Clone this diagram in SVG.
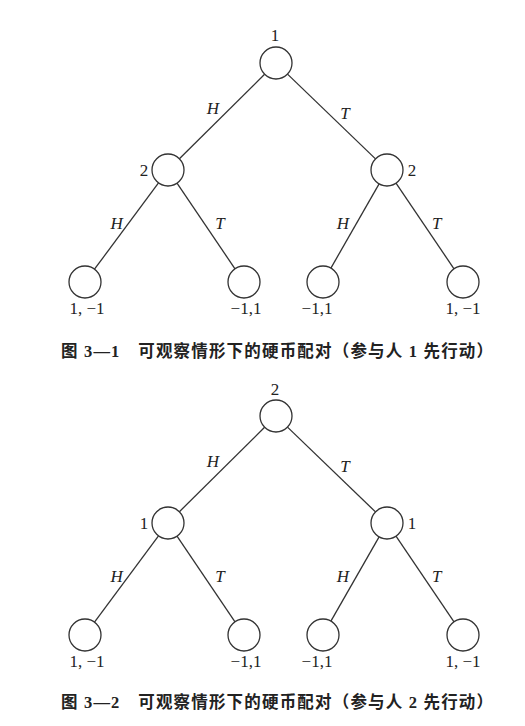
<svg xmlns="http://www.w3.org/2000/svg" width="525" height="726" viewBox="0 0 525 726">
<style>
.node{fill:#fff;stroke:#333;stroke-width:1.3}
.edge{stroke:#333;stroke-width:1.3;fill:none}
.num{font-family:"Liberation Serif","DejaVu Serif",serif;font-size:17px;fill:#222;text-anchor:middle}
.lab{font-family:"Liberation Serif","DejaVu Serif",serif;font-size:17px;font-style:italic;fill:#222;text-anchor:middle}
.cap{font-family:"Liberation Serif","Noto Sans CJK SC",sans-serif;font-size:16.5px;font-weight:bold;fill:#222;text-anchor:middle}
</style>
<rect width="525" height="726" fill="#fff"/>
<g id="connectors">
<line class="edge" x1="264.6" y1="74.3" x2="179.4" y2="158.7"/>
<line class="edge" x1="287.5" y1="74.1" x2="375.5" y2="158.9"/>
<line class="edge" x1="158.5" y1="182.9" x2="94.5" y2="269.2"/>
<line class="edge" x1="177" y1="183.2" x2="235" y2="268.8"/>
<line class="edge" x1="379.1" y1="183.9" x2="330.9" y2="268.1"/>
<line class="edge" x1="396" y1="183.2" x2="454" y2="268.8"/>
<line class="edge" x1="264.6" y1="427.3" x2="179.4" y2="511.7"/>
<line class="edge" x1="287.5" y1="427.1" x2="375.5" y2="511.9"/>
<line class="edge" x1="158.5" y1="535.9" x2="94.5" y2="622.2"/>
<line class="edge" x1="177" y1="536.2" x2="235" y2="621.8"/>
<line class="edge" x1="379.1" y1="536.9" x2="330.9" y2="621.1"/>
<line class="edge" x1="396" y1="536.2" x2="454" y2="621.8"/>
<text class="lab" x="213" y="114">H</text>
<text class="lab" x="345" y="119">T</text>
<text class="lab" x="116.7" y="229">H</text>
<text class="lab" x="220" y="229">T</text>
<text class="lab" x="343" y="229">H</text>
<text class="lab" x="436.7" y="229">T</text>
<text class="lab" x="213" y="467">H</text>
<text class="lab" x="345" y="472">T</text>
<text class="lab" x="116.7" y="582">H</text>
<text class="lab" x="220" y="582">T</text>
<text class="lab" x="343" y="582">H</text>
<text class="lab" x="436.7" y="582">T</text>
</g>
<g id="tree1">
<g id="t1-root"><circle class="node" cx="276" cy="63" r="16"/><text class="num" x="275" y="41">1</text></g>
<g id="t1-L"><circle class="node" cx="168" cy="170" r="16"/><text class="num" x="144" y="176">2</text></g>
<g id="t1-R"><circle class="node" cx="387" cy="170" r="16"/><text class="num" x="412" y="176">2</text></g>
<g id="t1-LL"><circle class="node" cx="85" cy="282" r="16"/><text class="num" x="87" y="314">1, −1</text></g>
<g id="t1-LR"><circle class="node" cx="244" cy="282" r="16"/><text class="num" x="246" y="314">−1,1</text></g>
<g id="t1-RL"><circle class="node" cx="323" cy="282" r="16"/><text class="num" x="317" y="314">−1,1</text></g>
<g id="t1-RR"><circle class="node" cx="463" cy="282" r="16"/><text class="num" x="463" y="314">1, −1</text></g>
</g>
<text id="caption1" class="cap" x="277" y="357" textLength="432" lengthAdjust="spacing">图 3—1　可观察情形下的硬币配对（参与人 1 先行动）</text>
<g id="tree2">
<g id="t2-root"><circle class="node" cx="276" cy="416" r="16"/><text class="num" x="275" y="395">2</text></g>
<g id="t2-L"><circle class="node" cx="168" cy="523" r="16"/><text class="num" x="144" y="529">1</text></g>
<g id="t2-R"><circle class="node" cx="387" cy="523" r="16"/><text class="num" x="412" y="529">1</text></g>
<g id="t2-LL"><circle class="node" cx="85" cy="635" r="16"/><text class="num" x="87" y="667">1, −1</text></g>
<g id="t2-LR"><circle class="node" cx="244" cy="635" r="16"/><text class="num" x="246" y="667">−1,1</text></g>
<g id="t2-RL"><circle class="node" cx="323" cy="635" r="16"/><text class="num" x="317" y="667">−1,1</text></g>
<g id="t2-RR"><circle class="node" cx="463" cy="635" r="16"/><text class="num" x="463" y="667">1, −1</text></g>
</g>
<text id="caption2" class="cap" x="277" y="708" textLength="432" lengthAdjust="spacing">图 3—2　可观察情形下的硬币配对（参与人 2 先行动）</text>
</svg>
